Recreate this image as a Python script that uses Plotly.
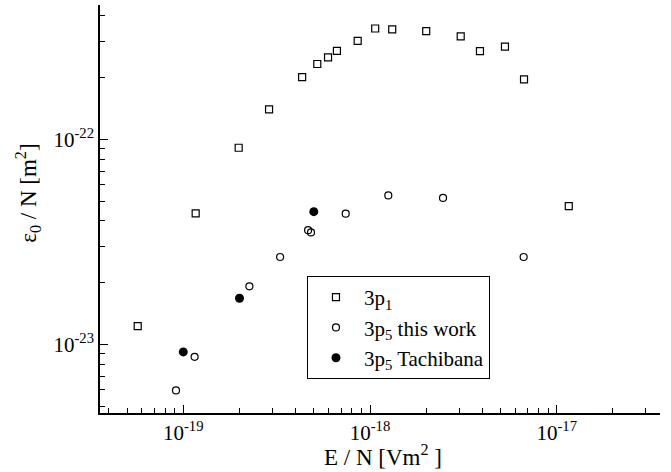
import plotly.graph_objects as go

# 3p1 (open squares)
p1_x = [5.70e-20, 1.165e-19, 1.98e-19, 2.88e-19, 4.33e-19, 5.22e-19, 5.96e-19, 6.65e-19,
        8.59e-19, 1.066e-18, 1.315e-18, 2.00e-18, 3.06e-18, 3.88e-18, 5.28e-18, 6.68e-18, 1.16e-17]
p1_y = [1.23e-23, 4.36e-23, 9.10e-23, 1.40e-22, 2.01e-22, 2.33e-22, 2.51e-22, 2.70e-22,
        3.02e-22, 3.47e-22, 3.44e-22, 3.37e-22, 3.18e-22, 2.69e-22, 2.83e-22, 1.96e-22, 4.73e-23]

# 3p5 this work (open circles)
p5_x = [9.14e-20, 1.15e-19, 2.26e-19, 3.30e-19, 4.66e-19, 4.83e-19, 7.41e-19, 1.253e-18, 2.46e-18, 6.65e-18]
p5_y = [5.97e-24, 8.71e-24, 1.92e-23, 2.67e-23, 3.61e-23, 3.52e-23, 4.34e-23, 5.33e-23, 5.18e-23, 2.67e-23]

# 3p5 Tachibana (filled circles)
tach_x = [1.0e-19, 2.0e-19, 5.0e-19]
tach_y = [9.20e-24, 1.68e-23, 4.44e-23]

x_ticks = [1e-19, 1e-18, 1e-17]
x_ticktext = ["10<sup>-19</sup>", "10<sup>-18</sup>", "10<sup>-17</sup>"]
y_ticks = [1e-23, 1e-22]
y_ticktext = ["10<sup>-23</sup>", "10<sup>-22</sup>"]

x_title = "E / N [Vm<sup>2</sup> ]"
y_title = "ε<sub>0</sub> / N [m<sup>2</sup>]"

x_minor = [m * 10.0 ** e for e in (-20, -19, -18, -17) for m in range(2, 10)]
y_minor = [m * 10.0 ** e for e in (-24, -23, -22) for m in range(2, 10)]

FONT = "Liberation Serif, Times New Roman, serif"

fig = go.Figure()
fig.add_trace(go.Scatter(
    x=p1_x, y=p1_y, mode="markers", name="3p<sub>1</sub>",
    marker=dict(symbol="square-open", size=7, color="black", line=dict(width=1.2, color="black"))))
fig.add_trace(go.Scatter(
    x=p5_x, y=p5_y, mode="markers", name="3p<sub>5</sub> this work",
    marker=dict(symbol="circle-open", size=7, color="black", line=dict(width=1.2, color="black"))))
fig.add_trace(go.Scatter(
    x=tach_x, y=tach_y, mode="markers", name="3p<sub>5</sub> Tachibana",
    marker=dict(symbol="circle", size=9, color="black")))

axis_common = dict(
    showline=True, linecolor="black", linewidth=1.5, mirror=False,
    showgrid=False, zeroline=False,
    ticks="inside", ticklen=8, tickwidth=1.2, tickcolor="black",
    tickmode="array",
    tickfont=dict(family=FONT, size=21, color="black"),
)

fig.update_layout(
    width=671, height=472,
    margin=dict(l=100, r=11, t=5, b=59),
    paper_bgcolor="white", plot_bgcolor="white",
    font=dict(family=FONT, size=21, color="black"),
    xaxis=dict(
        type="log", range=[-19.446, -16.447],
        tickvals=x_ticks, ticktext=x_ticktext,
        minor=dict(tickvals=x_minor, ticks="inside", ticklen=5, tickwidth=1.2, tickcolor="black"),
        **axis_common),
    yaxis=dict(
        type="log", range=[-23.334, -21.345],
        tickvals=y_ticks, ticktext=y_ticktext,
        minor=dict(tickvals=y_minor, ticks="inside", ticklen=5, tickwidth=1.2, tickcolor="black"),
        **axis_common),
    legend=dict(
        x=0.3696, y=0.3358, xanchor="left", yanchor="top",
        bordercolor="black", borderwidth=1, bgcolor="white",
        font=dict(family=FONT, size=21, color="black"),
        itemwidth=46,
    ),
    showlegend=True,
    annotations=[
        dict(text=x_title, xref="paper", yref="paper", x=0.505, y=-0.104,
             xanchor="center", yanchor="middle", showarrow=False,
             font=dict(family=FONT, size=23, color="black")),
        dict(text=y_title, xref="paper", yref="paper", x=-0.1286, y=0.54,
             xanchor="center", yanchor="middle", showarrow=False, textangle=-90,
             font=dict(family=FONT, size=23, color="black")),
    ],
)

fig.write_html("out.html", config={"displayModeBar": False},
               post_script="document.body.style.margin='0px';")
